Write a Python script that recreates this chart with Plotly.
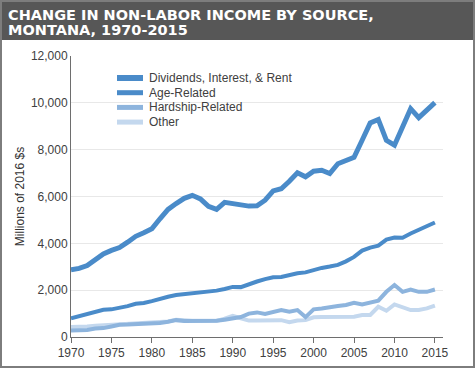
import plotly.graph_objects as go

years = list(range(1970, 2016))

dividends = [2870, 2930, 3050, 3330, 3550, 3700, 3820, 4050, 4300, 4450,
             4620, 5050, 5450, 5700, 5920, 6050, 5900, 5580, 5450, 5750,
             5690, 5600, 5590, 5600, 5840, 6240, 6330, 6650, 7010, 6840,
             7080, 7120, 6980, 7400, 7560, 7670, 8400, 9140, 9290, 8400,
             8190, 8970, 9750, 9370, 9690, 10010]

age_related = [800, 900, 1000, 1080, 1160, 1180, 1230, 1320, 1420, 1450,
               1530, 1640, 1720, 1790, 1830, 1830, 1880, 1940, 1980, 2050,
               2140, 2130, 2260, 2370, 2470, 2550, 2560, 2660, 2720, 2760,
               2860, 2950, 3010, 3080, 3230, 3420, 3690, 3820, 3900, 4160,
               4250, 4240, 4420, 4590, 4760, 4890]

hardship = [280, 270, 300, 360, 380, 450, 520, 530, 540, 540,
            580, 600, 650, 720, 680, 680, 680, 680, 690, 740,
            780, 850, 1000, 1050, 980, 1080, 1150, 1080, 1150, 850,
            1180, 1220, 1290, 1320, 1370, 1460, 1390, 1460, 1550, 1930,
            2220, 1930, 2030, 1930, 1930, 2030]

other = [430, 430, 450, 480, 500, 530, 550, 560, 560, 570,
         600, 620, 660, 740, 700, 690, 690, 690, 690, 780,
         900, 800, 700, 700, 700, 700, 720, 630, 700, 720,
         840, 850, 850, 850, 850, 870, 940, 940, 1290, 1120,
         1390, 1270, 1150, 1150, 1220, 1340]

series = [
    ("Dividends, Interest, & Rent", dividends, "#4a8bc9", 5),
    ("Age-Related", age_related, "#4a8bc9", 4),
    ("Hardship-Related", hardship, "#8db4dd", 4),
    ("Other", other, "#c4d8ee", 4),
]

title_lines = ["CHANGE IN NON-LABOR INCOME BY SOURCE,", "MONTANA, 1970-2015"]
y_title = "Millions of 2016 $s"

fig = go.Figure()
for name, vals, color, w in reversed(series):
    fig.add_trace(go.Scatter(
        x=years, y=vals, name=name, mode="lines",
        line=dict(color=color, width=w), showlegend=False, hoverinfo="skip",
    ))

W, H = 475, 368
ml, mr, mt, mb = 71, 32, 56, 31
pw, ph = W - ml - mr, H - mt - mb

def px_x(px):
    return (px - ml) / pw

def px_y(py):
    return (H - mb - py) / ph

shapes = [
    dict(type="rect", xref="paper", yref="paper",
         x0=px_x(0), x1=px_x(W), y0=px_y(40), y1=px_y(0),
         fillcolor="#575757", line=dict(width=0), layer="below"),
    dict(type="rect", xref="paper", yref="paper",
         x0=px_x(1), x1=px_x(W - 1), y0=px_y(H - 1), y1=px_y(1),
         fillcolor="rgba(0,0,0,0)", line=dict(color="#7d7d7d", width=2)),
]

annotations = []
title_font = dict(family="DejaVu Sans, sans-serif", size=14.5, color="white", weight="bold")
for i, line in enumerate(title_lines):
    annotations.append(dict(text=line, xref="paper", yref="paper",
                            x=px_x(6), y=px_y(5 + 15 * i), xanchor="left", yanchor="top",
                            showarrow=False, font=title_font))

# manual legend (compact spacing as in the reference)
leg_x0, leg_x1, leg_tx, leg_y0, leg_dy = 117, 143, 147, 78, 14.7
for i, (name, vals, color, w) in enumerate(series):
    yy = px_y(leg_y0 + i * leg_dy)
    shapes.append(dict(type="line", xref="paper", yref="paper",
                       x0=px_x(leg_x0), x1=px_x(leg_x1), y0=yy, y1=yy,
                       line=dict(color=color, width=w + 1)))
    annotations.append(dict(text=name, xref="paper", yref="paper",
                            x=px_x(leg_tx), y=yy, xanchor="left", yanchor="middle",
                            showarrow=False, font=dict(size=12, color="#404040")))

fig.update_layout(
    width=W, height=H,
    margin=dict(l=ml, r=mr, t=mt, b=mb, autoexpand=False),
    paper_bgcolor="white", plot_bgcolor="white",
    font=dict(family="Liberation Sans, Arial, sans-serif", size=12, color="#404040"),
    shapes=shapes, annotations=annotations,
    showlegend=False, hovermode=False,
    xaxis=dict(range=[1970, 2016], tickvals=list(range(1970, 2016, 5)),
               showgrid=False, zeroline=False, showline=True, linecolor="#6e6e6e",
               linewidth=1, ticks="outside", ticklen=5, tickcolor="#6e6e6e",
               tickfont=dict(size=12, color="#404040"), automargin=False),
    yaxis=dict(range=[0, 12000], tickvals=list(range(0, 12001, 2000)),
               tickformat=",d", showgrid=True, gridcolor="#e8e8e8", gridwidth=1,
               zeroline=False, showline=True, linecolor="#6e6e6e", linewidth=1,
               ticks="", tickfont=dict(size=12, color="#404040"), automargin=False,
               title=dict(text=y_title, font=dict(size=12, color="#333333"), standoff=3)),
)

fig.write_html("out.html", config={"displayModeBar": False},
               post_script="document.body.style.margin='0';")
